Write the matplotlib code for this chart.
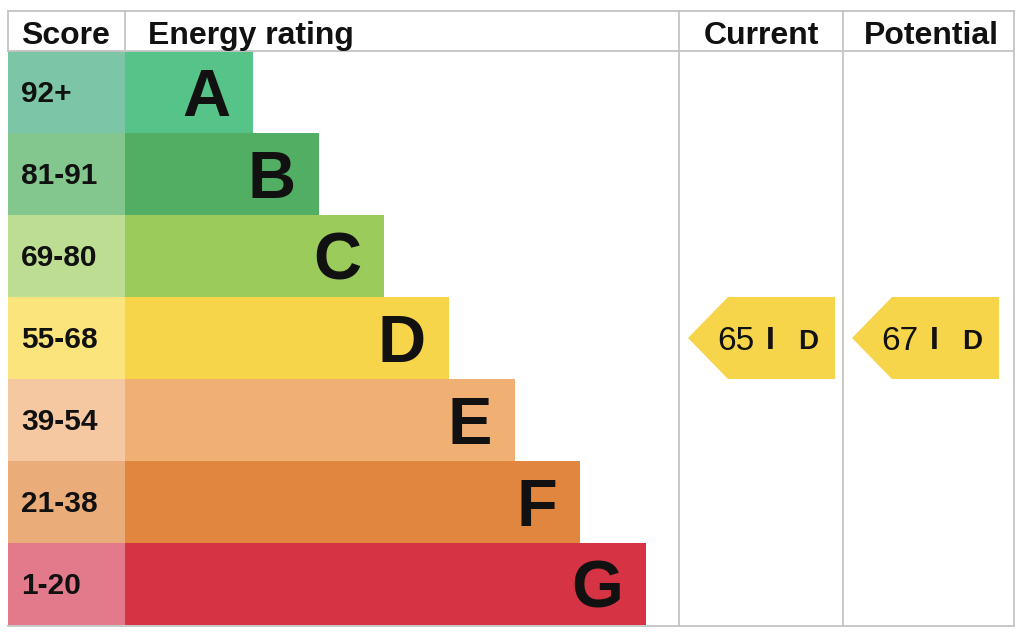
import matplotlib
matplotlib.use("Agg")
import matplotlib.pyplot as plt
from matplotlib.patches import Polygon

# ---- data ----
bands = ["A", "B", "C", "D", "E", "F", "G"]
score_ranges = ["92+", "81-91", "69-80", "55-68", "39-54", "21-38", "1-20"]
bar_widths = [128, 194, 259, 324, 390, 455, 521]
bar_colors = ["#56c488", "#52ae63", "#9bcb5b", "#f6d54a", "#f0af73", "#e1863f", "#d63444"]
score_colors = ["#7cc5a6", "#84c78e", "#bcdd92", "#fbe47c", "#f5c8a2", "#eaad7a", "#e27a8c"]
headers = ["Score", "Energy rating", "Current", "Potential"]
current_score, current_band = 65, "D"
potential_score, potential_band = 67, "D"

plt.rcParams["font.family"] = ["Liberation Sans", "DejaVu Sans"]

W, H = 1024, 635
fig = plt.figure(figsize=(W / 100, H / 100), dpi=100)
ax = fig.add_axes([0, 0, 1, 1])
ax.set_xlim(0, W)
ax.set_ylim(H, 0)
ax.axis("off")

left, score_right = 8, 125
cur_l, pot_l, right = 679, 843, 1014
top, head_bot = 11, 51
row_h = 82
bottom = head_bot + row_h * len(bands)

def baseline(center, fs):
    return center + 0.716 * fs * 100 / 72 / 2

centers = [head_bot + row_h * (i + 0.5) for i in range(len(bands))]

# score cells
ax.barh(centers, [score_right - left] * len(bands), left=left, height=row_h,
        color=score_colors, edgecolor="none", zorder=1)
# rating bars
ax.barh(centers, bar_widths, left=score_right, height=row_h,
        color=bar_colors, edgecolor="none", zorder=1)

for i, (b, s, w) in enumerate(zip(bands, score_ranges, bar_widths)):
    c = centers[i]
    ax.text(21, baseline(c - 1, 21.5), s, fontsize=21.5, fontweight="bold",
            ha="left", va="baseline", color="#111111", zorder=3)
    ax.text(score_right + w - 23, baseline(c, 48), b, fontsize=48, fontweight="bold",
            ha="right", va="baseline", color="#111111", zorder=3)

# grid lines
lc = "#c4c4c4"
lw = 1.3
ax.plot([left, right], [top, top], color=lc, lw=lw, zorder=2)
ax.plot([left, right], [head_bot, head_bot], color=lc, lw=lw, zorder=2)
ax.plot([left, right], [bottom + 1, bottom + 1], color=lc, lw=lw, zorder=2)
ax.plot([left, left], [top, head_bot], color=lc, lw=lw, zorder=2)
ax.plot([score_right, score_right], [top, head_bot], color=lc, lw=lw, zorder=2)
for x in (cur_l, pot_l, right):
    ax.plot([x, x], [top, bottom + 1], color=lc, lw=lw, zorder=2)

# headers
hb = baseline(33, 23)
ax.text(21, hb, headers[0], fontsize=23, fontweight="bold", ha="left", va="baseline", color="#111111")
ax.text(148, hb, headers[1], fontsize=23, fontweight="bold", ha="left", va="baseline", color="#111111")
ax.text((cur_l + pot_l) / 2, hb, headers[2], fontsize=23, fontweight="bold", ha="center", va="baseline", color="#111111")
ax.text((pot_l + right) / 2 + 3, hb, headers[3], fontsize=23, fontweight="bold", ha="center", va="baseline", color="#111111")

# arrows
def arrow(x0, score, band):
    i = bands.index(band)
    c = centers[i]
    y0, y1 = c - row_h / 2, c + row_h / 2
    x1 = x0 + 147
    tip = 40
    poly = Polygon([(x0, c), (x0 + tip, y0), (x1, y0), (x1, y1), (x0 + tip, y1)],
                   closed=True, facecolor=bar_colors[i], edgecolor="none", zorder=2)
    ax.add_patch(poly)
    ax.text(x0 + 29, baseline(c, 24), str(score), fontsize=24, ha="left", va="baseline",
            color="#111111", zorder=3)
    ax.text(x0 + 82, baseline(c, 23), "I", fontsize=23, fontweight="bold", ha="center",
            va="baseline", color="#111111", zorder=3)
    ax.text(x0 + 110, baseline(c + 1, 20), band, fontsize=20, fontweight="bold", ha="left",
            va="baseline", color="#111111", zorder=3)

arrow(688, current_score, current_band)
arrow(852, potential_score, potential_band)

fig.savefig("out.png", dpi=100, facecolor="white")
